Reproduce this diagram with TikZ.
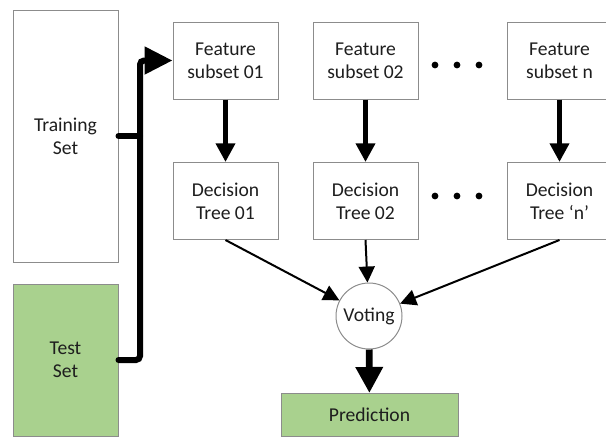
\documentclass[tikz,border=0pt]{standalone}
\usepackage{fontspec}
\setmainfont{Carlito}
\usetikzlibrary{arrows.meta}
\definecolor{boxline}{HTML}{8C8C8C}
\definecolor{leaf}{HTML}{A9D18E}
\definecolor{ink}{HTML}{1E1E1E}
\begin{document}
\begin{tikzpicture}[x=0.75pt,y=-0.75pt,
  every node/.style={font=\fontsize{14.7}{17.5}\selectfont, text=ink, align=center, inner sep=0pt},
  stagebox/.style={draw=boxline, line width=0.75pt, fill=white, minimum width=78.75pt, minimum height=57.75pt},
  setbox/.style={draw=boxline, line width=0.75pt, minimum width=78.75pt},
  bigflow/.style={line width=3.6pt, -{Triangle[length=14pt,width=14pt]}},
  thinflow/.style={line width=1.5pt, -{Triangle[length=12pt,width=12pt]}},
  bus/.style={line width=4.5pt, rounded corners=3pt, line cap=round},
  ellipsisdot/.style={fill=black}]
\useasboundingbox (0,0) rectangle (606,437);
\clip (0,0) rectangle (606,437);

% data sets
\node[setbox, fill=white, minimum height=189pt] (train) at (65.5,136) {Training\\Set};
\node[setbox, fill=leaf, minimum height=114pt] (test) at (65.5,360) {Test\\Set};

% feature subsets
\node[stagebox] (f1) at (225.5,60.5) {Feature\\subset 01};
\node[stagebox] (f2) at (365.5,60.5) {Feature\\subset 02};
\node[stagebox] (fn) at (559.5,60.5) {Feature\\subset n};

% decision trees
\node[stagebox] (t1) at (225.5,201) {Decision\\Tree 01};
\node[stagebox] (t2) at (365.5,201) {Decision\\Tree 02};
\node[stagebox] (tn) at (559.5,201) {Decision\\Tree ‘n’};

% voting and result
\node[draw=boxline, line width=0.75pt, circle, fill=white, minimum size=49.5pt] (vote) at (369,316) {Voting};
\node[draw=boxline, line width=0.75pt, fill=leaf, minimum width=132.75pt, minimum height=32.25pt] (pred) at (369.5,415) {Prediction};

% ellipsis dots between columns
\foreach \y in {65,196}{
  \foreach \x in {435,457,479}{
    \fill[ellipsisdot] (\x,\y) circle (3.4);
  }
}

% data bus into the first subset
\coordinate (bustop) at (140,60.5);
\draw[bus] (train.east) -- (train.east -| bustop);
\draw[bus, -{Triangle[length=21pt,width=20pt]}] (test.east) -| (bustop) -- (f1.west);

% subset to tree
\draw[bigflow] (f1) -- (t1);
\draw[bigflow] (f2) -- (t2);
\draw[bigflow] (fn) -- (tn);

% trees to voting
\draw[thinflow] (t1.south) -- (vote);
\draw[thinflow] (t2.south) -- (vote);
\draw[thinflow] (tn.south) -- (vote);

% voting to prediction
\draw[line width=5pt, -{Triangle[length=19.5pt,width=19.5pt]}] (vote) -- (pred);
\end{tikzpicture}
\end{document}
